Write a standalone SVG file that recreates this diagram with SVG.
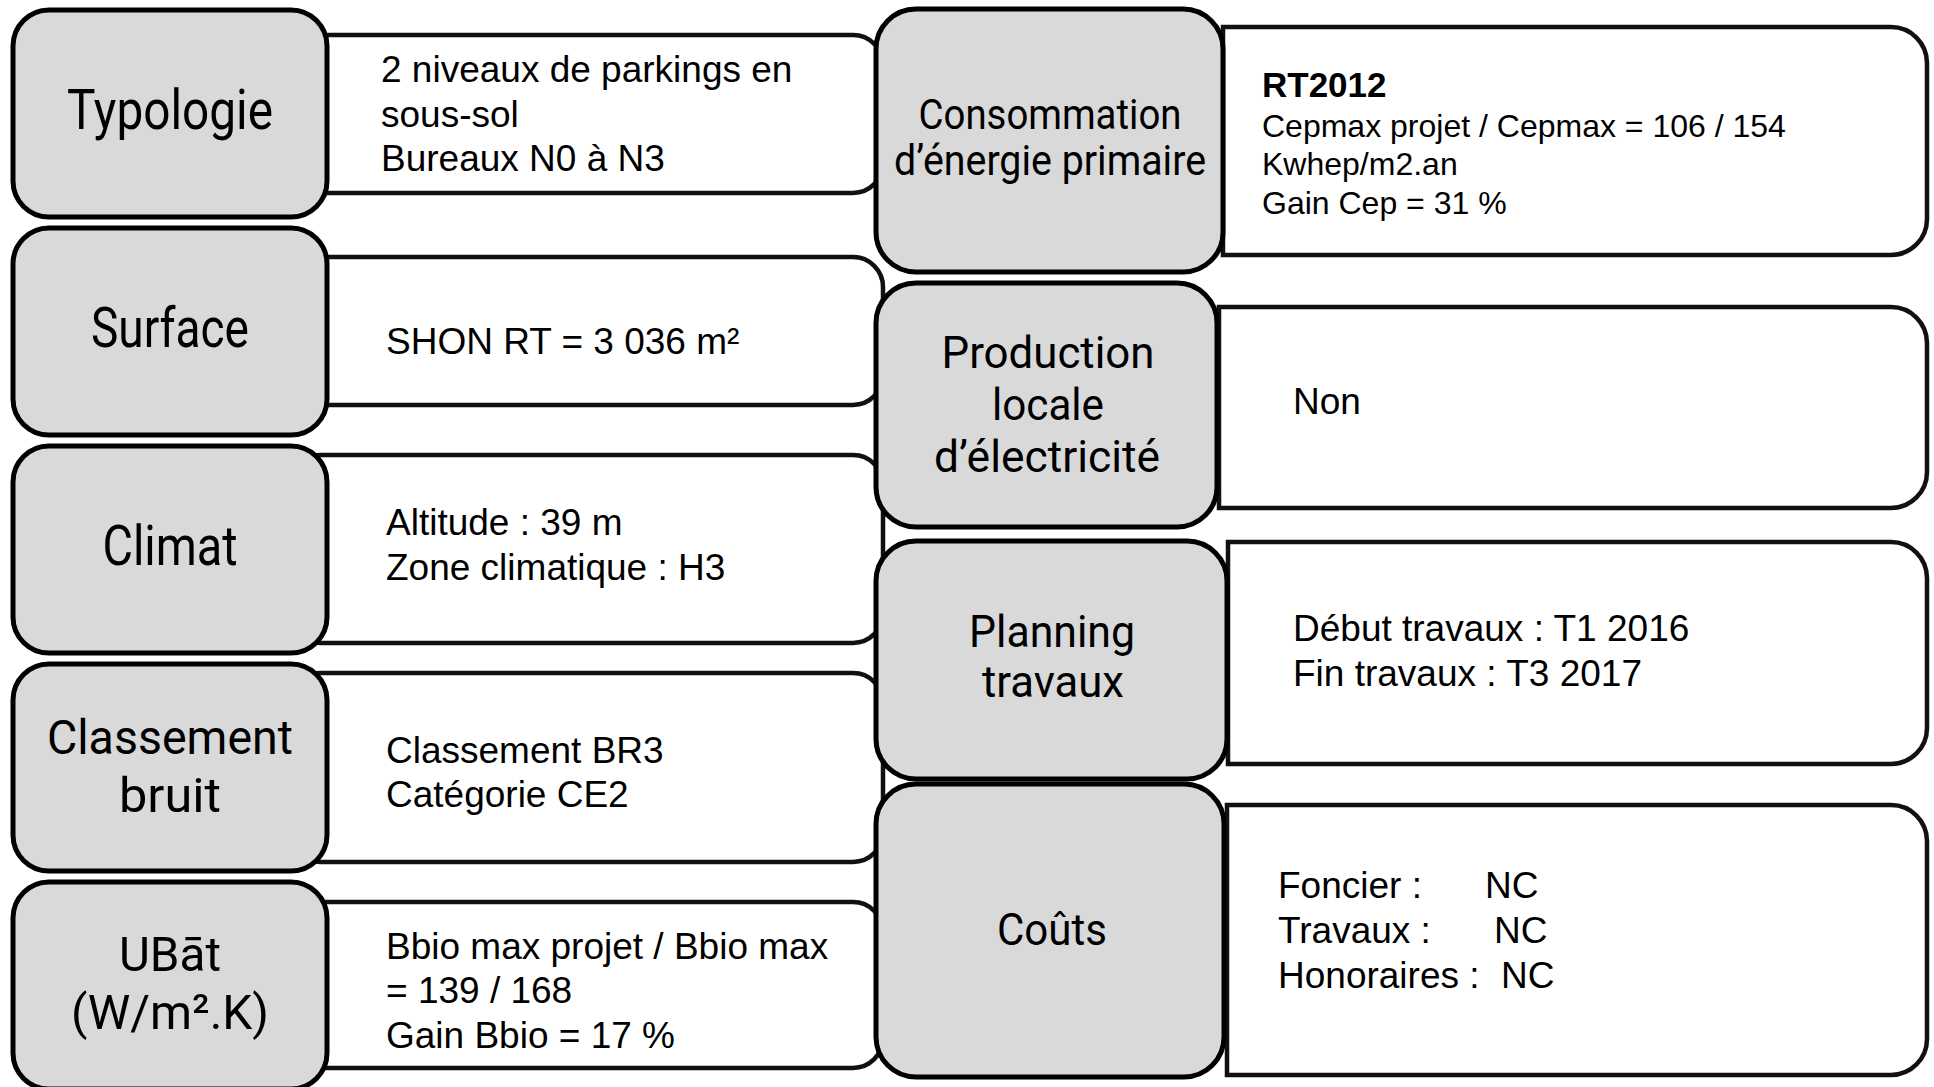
<svg xmlns="http://www.w3.org/2000/svg" width="1934" height="1087" viewBox="0 0 1934 1087">
<style>
.lbl{fill:#d9d9d9;stroke:#000;stroke-width:5}
.val{fill:#fff;stroke:#111;stroke-width:4.5}
.lt{font-family:Roboto,"Noto Sans","DejaVu Sans",sans-serif;fill:#000;text-anchor:middle}
.l1{font-size:56px}
.l3{font-size:49px}
.l2{font-size:45px}
.bt{font-family:"Liberation Sans",Arial,sans-serif;font-size:37px;fill:#000}
.bs{font-family:"Liberation Sans",Arial,sans-serif;font-size:32px;fill:#000}
.bb{font-family:"Liberation Sans",Arial,sans-serif;font-size:35px;font-weight:bold;fill:#000}
</style>
<rect width="1934" height="1087" fill="#fff"/>
<g id="connectors"/>
<g id="typologie">
<rect class="val" x="290" y="35" width="593" height="158" rx="30"/>
<rect class="lbl" x="13" y="10" width="314" height="207" rx="36"/>
<text class="lt l1" x="170" y="129" textLength="206" lengthAdjust="spacingAndGlyphs">Typologie</text>
<text class="bt" x="381" y="82">2 niveaux de parkings en</text>
<text class="bt" x="381" y="127">sous-sol</text>
<text class="bt" x="381" y="171">Bureaux N0 à N3</text>
</g>
<g id="surface">
<rect class="val" x="290" y="257" width="593" height="148" rx="30"/>
<rect class="lbl" x="13" y="228" width="314" height="207" rx="36"/>
<text class="lt l1" x="170" y="347" textLength="158" lengthAdjust="spacingAndGlyphs">Surface</text>
<text class="bt" x="386" y="354">SHON RT = 3 036 m²</text>
</g>
<g id="climat">
<rect class="val" x="290" y="455" width="593" height="188" rx="30"/>
<rect class="lbl" x="13" y="446" width="314" height="207" rx="36"/>
<text class="lt l1" x="170" y="565" textLength="135" lengthAdjust="spacingAndGlyphs">Climat</text>
<text class="bt" x="386" y="535">Altitude : 39 m</text>
<text class="bt" x="386" y="580">Zone climatique : H3</text>
</g>
<g id="classement-bruit">
<rect class="val" x="290" y="673" width="593" height="189" rx="30"/>
<rect class="lbl" x="13" y="664" width="314" height="207" rx="36"/>
<text class="lt l3" x="170" y="754" textLength="246" lengthAdjust="spacingAndGlyphs">Classement</text>
<text class="lt l3" x="170" y="812" textLength="102" lengthAdjust="spacingAndGlyphs">bruit</text>
<text class="bt" x="386" y="763">Classement BR3</text>
<text class="bt" x="386" y="807">Catégorie CE2</text>
</g>
<g id="ubat">
<rect class="val" x="290" y="902" width="593" height="166" rx="30"/>
<rect class="lbl" x="13" y="882" width="314" height="207" rx="36"/>
<text class="lt l3" x="170" y="971" textLength="102" lengthAdjust="spacingAndGlyphs">UBāt</text>
<text class="lt l3" x="170" y="1029" textLength="198" lengthAdjust="spacingAndGlyphs">(W/m².K)</text>
<text class="bt" x="386" y="959">Bbio max projet / Bbio max</text>
<text class="bt" x="386" y="1003">= 139 / 168</text>
<text class="bt" x="386" y="1048">Gain Bbio = 17 %</text>
</g>
<g id="consommation">
<path class="val" d="M1223,27 H1891 A36,36 0 0 1 1927,63 V219 A36,36 0 0 1 1891,255 H1223 Z"/>
<rect class="lbl" x="876" y="9" width="347" height="263" rx="40"/>
<text class="lt" x="1050" y="129" textLength="263" lengthAdjust="spacingAndGlyphs" style="font-size:43px">Consommation</text>
<text class="lt" x="1050" y="175" textLength="312" lengthAdjust="spacingAndGlyphs" style="font-size:43px">d’énergie primaire</text>
<text class="bb" x="1262" y="97">RT2012</text>
<text class="bs" x="1262" y="137">Cepmax projet / Cepmax = 106 / 154</text>
<text class="bs" x="1262" y="175">Kwhep/m2.an</text>
<text class="bs" x="1262" y="214">Gain Cep = 31 %</text>
</g>
<g id="production">
<path class="val" d="M1219,307 H1891 A36,36 0 0 1 1927,343 V472 A36,36 0 0 1 1891,508 H1219 Z"/>
<rect class="lbl" x="876" y="283" width="341" height="244" rx="40"/>
<text class="lt l2" x="1048" y="368" textLength="213" lengthAdjust="spacingAndGlyphs">Production</text>
<text class="lt l2" x="1048" y="420" textLength="112" lengthAdjust="spacingAndGlyphs">locale</text>
<text class="lt l2" x="1047" y="472" textLength="226" lengthAdjust="spacingAndGlyphs">d’électricité</text>
<text class="bt" x="1293" y="414">Non</text>
</g>
<g id="planning">
<path class="val" d="M1228,542 H1891 A36,36 0 0 1 1927,578 V728 A36,36 0 0 1 1891,764 H1228 Z"/>
<rect class="lbl" x="876" y="541" width="351" height="238" rx="40"/>
<text class="lt l2" x="1052" y="647" textLength="166" lengthAdjust="spacingAndGlyphs">Planning</text>
<text class="lt l2" x="1053" y="697" textLength="142" lengthAdjust="spacingAndGlyphs">travaux</text>
<text class="bt" x="1293" y="641">Début travaux : T1 2016</text>
<text class="bt" x="1293" y="686">Fin travaux : T3 2017</text>
</g>
<g id="couts">
<path class="val" d="M1227,805 H1891 A36,36 0 0 1 1927,841 V1039 A36,36 0 0 1 1891,1075 H1227 Z"/>
<rect class="lbl" x="876" y="784" width="348" height="293" rx="40"/>
<text class="lt l2" x="1052" y="945" textLength="110" lengthAdjust="spacingAndGlyphs">Coûts</text>
<text class="bt" x="1278" y="898">Foncier : <tspan x="1485">NC</tspan></text>
<text class="bt" x="1278" y="943">Travaux : <tspan x="1494">NC</tspan></text>
<text class="bt" x="1278" y="988">Honoraires : <tspan x="1501">NC</tspan></text>
</g>
</svg>
